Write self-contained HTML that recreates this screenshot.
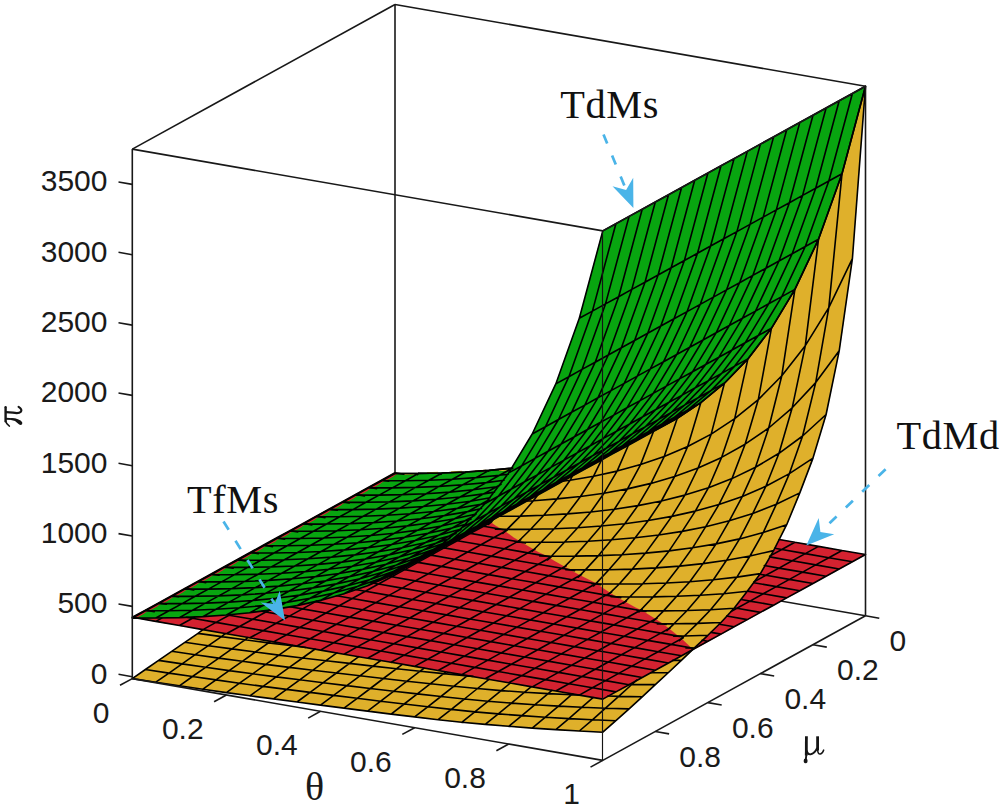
<!DOCTYPE html>
<html><head><meta charset="utf-8"><title>chart</title>
<style>
html,body{margin:0;padding:0;background:#fff}
body{width:1003px;height:806px;overflow:hidden}
svg{display:block}
.bx{stroke:#181818;stroke-width:1.6;fill:none}
.bxf{stroke:#141414;stroke-width:1.15;fill:none}
.ms{stroke:#000;stroke-width:1.6;fill:none;stroke-linecap:round;stroke-linejoin:round}
.tk{font-family:"Liberation Sans",sans-serif;font-size:30px;fill:#1a1a1a}
.ax{font-family:"Liberation Serif",serif;font-size:40px;fill:#1a1a1a}
.an{font-family:"Liberation Serif",serif;font-size:40.3px;letter-spacing:0.6px;fill:#111}
.ar{stroke:#4ab4e8;stroke-width:2.7;stroke-dasharray:9.8 12.9;fill:none}
</style></head><body>
<svg width="1003" height="806" viewBox="0 0 1003 806">
<rect width="1003" height="806" fill="#fff"/>
<g><line class="bx" x1="395.0" y1="534.0" x2="132.3" y2="678.6"/><line class="bx" x1="395.0" y1="534.0" x2="865.5" y2="615.8"/><line class="bx" x1="395.0" y1="534.0" x2="395.0" y2="4.5"/><line class="bx" x1="395.0" y1="4.5" x2="132.3" y2="149.1"/><line class="bx" x1="395.0" y1="4.5" x2="865.5" y2="86.3"/></g>
<path d="M865.5,87.5 864.8,87.5 842.2,172.5 818.2,239.5 794.8,289.2 771.2,328.2 748.2,358.2 722.8,384.2 700.2,402.8 676.5,418.5 489.5,521.2 489.8,522.5 500.8,529.2 513.2,537.8 526.8,546.2 538.2,552.5 545.2,555.8 553.5,561.2 577.5,574.5 596.2,583.8 601.8,588.2 614.8,596.5 634.5,607.5 641.5,610.8 648.8,615.8 654.2,618.8 668.2,628.5 677.2,635.8 692.2,649.5 604.8,697.8 602.8,698.8 601.5,698.8 559.2,691.2 553.5,690.5 551.5,689.8 545.8,689.2 543.8,688.5 538.2,687.8 536.2,687.2 530.5,686.5 528.5,685.8 522.8,685.2 520.8,684.5 513.2,683.5 511.2,682.8 428.8,668.8 426.8,668.2 421.2,667.5 419.2,666.8 413.5,666.2 411.5,665.5 405.8,664.8 403.8,664.2 398.2,663.5 396.2,662.8 390.5,662.2 388.5,661.5 382.8,660.8 380.8,660.2 375.2,659.5 373.2,658.8 367.5,658.2 365.5,657.5 359.8,656.8 357.8,656.2 352.2,655.5 350.2,654.8 344.5,654.2 342.5,653.5 336.8,652.8 334.8,652.2 329.2,651.5 327.2,650.8 321.5,650.2 319.5,649.5 313.8,648.8 311.8,648.2 306.2,647.5 304.2,646.8 298.5,646.2 296.5,645.5 290.8,644.8 288.8,644.2 283.2,643.5 281.2,642.8 275.5,642.2 273.5,641.5 267.8,640.8 265.8,640.2 260.2,639.5 258.2,638.8 202.5,629.5 193.5,636.2 132.2,678.2 132.2,678.8 172.8,685.2 179.5,685.8 181.8,686.5 247.5,695.8 308.2,703.5 320.8,705.5 328.5,706.2 331.2,706.8 336.2,707.2 338.8,707.8 346.5,708.5 349.2,709.2 433.2,719.5 463.8,722.8 501.8,725.8 502.2,726.2 514.8,726.8 515.2,727.2 553.2,729.5 553.5,729.8 558.5,729.8 558.8,730.2 603.2,732.5 630.2,708.5 679.2,663.2 714.8,629.2 734.8,608.2 760.5,574.2 773.2,552.2 787.5,523.8 799.5,494.8 812.5,460.5 826.2,415.5 839.8,349.2 852.8,257.2 853.2,248.5 853.5,248.2 853.5,244.2 853.8,243.8 853.8,239.8 854.2,239.5 854.2,235.5 854.5,235.2 854.5,231.2 855.8,217.8 855.8,213.5 856.2,213.2 856.2,209.2 856.5,208.8 856.5,204.8 856.8,204.5 856.8,200.5 857.2,200.2 857.2,196.2 858.5,182.8 858.5,178.5 858.8,178.2Z" fill="#dfb02b" fill-rule="evenodd"/>
<path d="M132.5,617.5 165.5,623.5 171.2,624.2 173.2,624.8 178.8,625.5 180.8,626.2 186.5,626.8 188.5,627.5 194.2,628.2 196.2,628.8 201.8,629.5 203.8,630.2 209.5,630.8 211.5,631.5 217.2,632.2 219.2,632.8 224.8,633.5 226.8,634.2 232.5,634.8 234.5,635.5 240.2,636.2 242.2,636.8 247.8,637.5 249.8,638.2 280.5,643.2 282.5,643.8 288.2,644.5 290.2,645.2 295.8,645.8 297.8,646.5 303.5,647.2 305.5,647.8 311.2,648.5 313.2,649.2 318.8,649.8 320.8,650.5 326.5,651.2 328.5,651.8 334.2,652.5 336.2,653.2 341.8,653.8 343.8,654.5 349.5,655.2 351.5,655.8 357.2,656.5 359.2,657.2 364.8,657.8 366.8,658.5 372.5,659.2 374.5,659.8 380.2,660.5 382.2,661.2 387.8,661.8 389.8,662.5 395.5,663.2 397.5,663.8 403.2,664.5 405.2,665.2 410.8,665.8 412.8,666.5 418.5,667.2 420.5,667.8 426.2,668.5 428.2,669.2 433.8,669.8 435.8,670.5 441.5,671.2 443.5,671.8 449.2,672.5 451.2,673.2 456.8,673.8 458.8,674.5 464.5,675.2 466.5,675.8 472.2,676.5 474.2,677.2 479.8,677.8 481.8,678.5 487.5,679.2 489.5,679.8 495.2,680.5 497.2,681.2 502.8,681.8 504.8,682.5 510.5,683.2 512.5,683.8 589.2,696.8 591.2,697.5 596.8,698.2 598.8,698.8 603.5,699.2 691.5,650.8 693.2,649.5 694.5,649.2 865.2,555.2 865.5,554.2 829.2,548.2 827.2,547.5 821.5,546.8 781.2,539.5 778.8,539.5 772.8,551.5 760.8,572.5 734.5,607.5 723.2,619.8 692.8,649.2 681.8,638.8 668.8,628.2 661.5,622.8 642.2,610.5 635.2,607.2 617.2,597.2 602.5,587.8 596.8,583.5 578.2,574.2 554.2,560.8 545.8,555.5 538.8,552.2 527.5,545.8 513.8,537.5 504.5,530.8 495.5,525.5 489.8,521.5 485.8,523.2 416.2,561.8 389.2,576.2 362.8,587.2 343.5,593.8 330.5,597.2 324.5,599.2 296.8,605.5 273.5,609.5 248.2,612.8 244.8,612.8 223.2,615.2 203.8,616.2 203.5,616.5 180.5,617.2 180.2,617.5 165.5,617.5 165.2,617.8 138.5,617.8 138.2,617.5 143.2,614.5 399.2,473.8 399.2,473.2 394.5,472.5 132.5,616.8Z" fill="#d42230" fill-rule="evenodd"/>
<path d="M132.5,617.5 132.5,618.2 135.2,618.2 135.2,617.5ZM865.5,86.2 864.8,86.2 602.5,230.8 579.5,317.2 555.8,383.2 531.5,434.8 511.2,468.2 486.8,470.5 477.2,470.8 467.2,471.8 460.8,471.8 460.5,472.2 431.5,472.8 431.2,473.2 398.8,473.2 136.5,617.5 136.5,618.2 165.8,618.2 166.2,617.8 180.8,617.8 181.2,617.5 204.2,616.8 204.5,616.5 223.8,615.5 245.5,613.2 248.8,613.2 264.5,610.8 269.5,610.5 297.5,605.8 308.2,603.2 320.2,600.8 344.2,594.2 368.2,585.8 389.8,576.5 416.8,562.2 674.8,420.2 700.8,403.2 723.5,384.5 748.5,358.8 771.5,328.8 795.2,289.8 818.5,240.2 838.8,182.8 840.8,178.2 843.2,170.8 859.2,110.2 865.5,87.8Z" fill="#08a510" fill-rule="evenodd"/>
<line x1="395.0" y1="474.5" x2="507.9" y2="469.7" stroke="#e8c030" stroke-width="1.6" stroke-dasharray="11 13" stroke-dashoffset="-8"/>
<line x1="134.0" y1="618.2" x2="396.7" y2="473.6" stroke="#d42230" stroke-width="1.9" stroke-dasharray="7.5 7.5" stroke-dashoffset="-4"/>
<path class="ms" d="M395.0,473.5 L418.5,473.4M202.9,629.7 L198.0,633.4M198.0,633.4 L221.5,636.6M198.0,633.4 L184.8,642.3M184.8,642.3 L208.4,645.7M184.8,642.3 L171.7,651.3M171.7,651.3 L195.2,654.7M171.7,651.3 L158.6,660.4M158.6,660.4 L182.1,663.9M158.6,660.4 L145.4,669.5M145.4,669.5 L169.0,673.1M145.4,669.5 L132.3,678.6M132.3,678.6 L155.8,682.2M418.5,473.4 L442.1,473.0M418.5,473.4 L417.4,474.7M225.3,633.7 L221.5,636.6M221.5,636.6 L245.0,639.8M221.5,636.6 L208.4,645.7M208.4,645.7 L231.9,648.9M208.4,645.7 L195.2,654.7M195.2,654.7 L218.8,658.1M195.2,654.7 L182.1,663.9M182.1,663.9 L205.6,667.3M182.1,663.9 L169.0,673.1M169.0,673.1 L192.5,676.5M169.0,673.1 L155.8,682.2M155.8,682.2 L179.4,685.8M442.1,473.0 L465.6,472.0M442.1,473.0 L441.0,474.3M247.8,637.7 L245.0,639.8M245.0,639.8 L268.6,642.9M245.0,639.8 L231.9,648.9M231.9,648.9 L255.4,652.0M231.9,648.9 L218.8,658.1M218.8,658.1 L242.3,661.3M218.8,658.1 L205.6,667.3M205.6,667.3 L229.1,670.6M205.6,667.3 L192.5,676.5M192.5,676.5 L216.0,679.9M192.5,676.5 L179.4,685.8M179.4,685.8 L202.9,689.2M465.6,472.0 L489.1,470.4M465.6,472.0 L465.0,472.7M270.2,641.6 L268.6,642.9M268.6,642.9 L292.1,645.8M268.6,642.9 L255.4,652.0M255.4,652.0 L278.9,655.1M255.4,652.0 L242.3,661.3M242.3,661.3 L265.8,664.4M242.3,661.3 L229.1,670.6M229.1,670.6 L252.7,673.8M229.1,670.6 L216.0,679.9M216.0,679.9 L239.5,683.2M216.0,679.9 L202.9,689.2M202.9,689.2 L226.4,692.6M489.1,470.4 L512.6,468.1M489.1,470.4 L488.6,471.1M292.6,645.4 L292.1,645.8M292.1,645.8 L305.8,647.5M292.1,645.8 L278.9,655.1M278.9,655.1 L302.5,658.0M278.9,655.1 L265.8,664.4M265.8,664.4 L289.3,667.4M265.8,664.4 L252.7,673.8M252.7,673.8 L276.2,676.9M252.7,673.8 L239.5,683.2M239.5,683.2 L263.1,686.4M239.5,683.2 L226.4,692.6M226.4,692.6 L249.9,695.8M512.6,468.1 L512.1,468.9M315.1,649.0 L302.5,658.0M302.5,658.0 L326.0,660.7M302.5,658.0 L289.3,667.4M289.3,667.4 L312.9,670.2M289.3,667.4 L276.2,676.9M276.2,676.9 L299.7,679.8M276.2,676.9 L263.1,686.4M263.1,686.4 L286.6,689.4M263.1,686.4 L249.9,695.8M249.9,695.8 L273.5,698.9M526.5,501.0 L533.4,500.7M498.7,516.3 L520.3,516.1M494.0,519.0 L488.5,524.3M495.4,529.2 L507.1,529.4M336.9,652.8 L326.0,660.7M326.0,660.7 L349.5,663.4M326.0,660.7 L312.9,670.2M312.9,670.2 L336.4,673.0M312.9,670.2 L299.7,679.8M299.7,679.8 L323.2,682.7M299.7,679.8 L286.6,689.4M286.6,689.4 L310.1,692.4M286.6,689.4 L273.5,698.9M273.5,698.9 L297.0,702.0M562.2,481.3 L570.1,480.3M537.8,494.9 L533.4,500.7M533.4,500.7 L556.9,498.9M533.4,500.7 L520.3,516.1M520.3,516.1 L543.8,515.3M520.3,516.1 L507.1,529.4M507.1,529.4 L530.7,529.3M507.1,529.4 L502.8,533.5M515.6,542.2 L517.5,542.2M358.8,656.7 L349.5,663.4M349.5,663.4 L373.0,666.1M349.5,663.4 L336.4,673.0M336.4,673.0 L359.9,675.8M336.4,673.0 L323.2,682.7M323.2,682.7 L346.8,685.6M323.2,682.7 L310.1,692.4M310.1,692.4 L333.6,695.4M310.1,692.4 L297.0,702.0M297.0,702.0 L320.5,705.1M572.3,476.2 L570.1,480.3M570.1,480.3 L593.6,476.2M570.1,480.3 L556.9,498.9M556.9,498.9 L580.5,496.5M556.9,498.9 L543.8,515.3M543.8,515.3 L567.3,513.9M543.8,515.3 L530.7,529.3M530.7,529.3 L554.2,528.7M530.7,529.3 L517.5,542.2M517.5,542.2 L541.1,542.3M380.7,660.5 L373.0,666.1M373.0,666.1 L396.6,668.7M373.0,666.1 L359.9,675.8M359.9,675.8 L383.4,678.5M359.9,675.8 L346.8,685.6M346.8,685.6 L370.3,688.5M346.8,685.6 L333.6,695.4M333.6,695.4 L357.2,698.3M333.6,695.4 L320.5,705.1M320.5,705.1 L344.0,708.1M601.8,459.4 L593.6,476.2M593.6,476.2 L617.1,471.1M593.6,476.2 L580.5,496.5M580.5,496.5 L604.0,493.2M580.5,496.5 L567.3,513.9M567.3,513.9 L590.8,512.0M567.3,513.9 L554.2,528.7M554.2,528.7 L577.7,527.7M554.2,528.7 L541.1,542.3M541.1,542.3 L564.6,542.0M541.1,542.3 L532.3,551.3M539.7,556.0 L551.4,556.2M402.0,664.6 L396.6,668.7M396.6,668.7 L420.1,671.2M396.6,668.7 L383.4,678.5M383.4,678.5 L407.0,681.2M383.4,678.5 L370.3,688.5M370.3,688.5 L393.8,691.2M370.3,688.5 L357.2,698.3M357.2,698.3 L380.7,701.2M357.2,698.3 L344.0,708.1M344.0,708.1 L367.6,711.1M628.6,444.8 L617.1,471.1M617.1,471.1 L640.6,464.6M617.1,471.1 L604.0,493.2M604.0,493.2 L627.5,488.9M604.0,493.2 L590.8,512.0M590.8,512.0 L614.4,509.2M590.8,512.0 L577.7,527.7M577.7,527.7 L601.2,526.0M577.7,527.7 L564.6,542.0M564.6,542.0 L588.1,541.2M564.6,542.0 L551.4,556.2M551.4,556.2 L575.0,556.1M551.4,556.2 L547.6,559.9M423.9,668.3 L420.1,671.2M420.1,671.2 L443.6,673.6M420.1,671.2 L407.0,681.2M407.0,681.2 L430.5,683.7M407.0,681.2 L393.8,691.2M393.8,691.2 L417.3,693.9M393.8,691.2 L380.7,701.2M380.7,701.2 L404.2,704.0M380.7,701.2 L367.6,711.1M367.6,711.1 L391.1,714.1M654.8,430.4 L677.3,418.3M653.2,432.3 L640.6,464.6M640.6,464.6 L664.2,456.6M640.6,464.6 L627.5,488.9M627.5,488.9 L651.0,483.4M627.5,488.9 L614.4,509.2M614.4,509.2 L637.9,505.6M614.4,509.2 L601.2,526.0M601.2,526.0 L624.8,523.7M601.2,526.0 L588.1,541.2M588.1,541.2 L611.6,539.8M588.1,541.2 L575.0,556.1M575.0,556.1 L598.5,555.6M575.0,556.1 L562.9,568.5M565.8,569.7 L585.4,569.9M445.8,671.9 L443.6,673.6M443.6,673.6 L467.1,675.9M443.6,673.6 L430.5,683.7M430.5,683.7 L454.0,686.2M430.5,683.7 L417.3,693.9M417.3,693.9 L440.9,696.5M417.3,693.9 L404.2,704.0M404.2,704.0 L427.7,706.8M404.2,704.0 L391.1,714.1M391.1,714.1 L414.6,716.9M677.3,418.3 L700.8,402.7M677.3,418.3 L664.2,456.6M664.2,456.6 L687.7,446.5M664.2,456.6 L651.0,483.4M651.0,483.4 L674.6,476.5M651.0,483.4 L637.9,505.6M637.9,505.6 L661.4,501.0M637.9,505.6 L624.8,523.7M624.8,523.7 L648.3,520.5M624.8,523.7 L611.6,539.8M611.6,539.8 L635.2,537.8M611.6,539.8 L598.5,555.6M598.5,555.6 L622.0,554.7M598.5,555.6 L585.4,569.9M585.4,569.9 L608.9,569.7M585.4,569.9 L578.2,577.2M591.8,583.8 L595.7,583.9M467.1,675.9 L473.0,676.4M467.1,675.9 L454.0,686.2M454.0,686.2 L477.5,688.5M454.0,686.2 L440.9,696.5M440.9,696.5 L464.4,699.0M440.9,696.5 L427.7,706.8M427.7,706.8 L451.3,709.4M427.7,706.8 L414.6,716.9M414.6,716.9 L438.1,719.7M700.8,402.7 L724.4,383.2M700.8,402.7 L687.7,446.5M687.7,446.5 L711.2,434.1M687.7,446.5 L674.6,476.5M674.6,476.5 L698.1,468.0M674.6,476.5 L661.4,501.0M661.4,501.0 L684.9,495.1M661.4,501.0 L648.3,520.5M648.3,520.5 L671.8,516.4M648.3,520.5 L635.2,537.8M635.2,537.8 L658.7,535.0M635.2,537.8 L622.0,554.7M622.0,554.7 L645.5,553.1M622.0,554.7 L608.9,569.7M608.9,569.7 L632.4,569.1M608.9,569.7 L595.7,583.9M595.7,583.9 L619.3,584.0M595.7,583.9 L593.6,585.9M489.0,679.3 L477.5,688.5M477.5,688.5 L501.1,690.6M477.5,688.5 L464.4,699.0M464.4,699.0 L487.9,701.3M464.4,699.0 L451.3,709.4M451.3,709.4 L474.8,711.9M451.3,709.4 L438.1,719.7M438.1,719.7 L461.7,722.3M724.4,383.2 L747.9,358.9M724.4,383.2 L711.2,434.1M711.2,434.1 L734.7,418.7M711.2,434.1 L698.1,468.0M698.1,468.0 L721.6,457.4M698.1,468.0 L684.9,495.1M684.9,495.1 L708.5,487.7M684.9,495.1 L671.8,516.4M671.8,516.4 L695.3,511.1M671.8,516.4 L658.7,535.0M658.7,535.0 L682.2,531.4M658.7,535.0 L645.5,553.1M645.5,553.1 L669.1,550.9M645.5,553.1 L632.4,569.1M632.4,569.1 L655.9,567.9M632.4,569.1 L619.3,584.0M619.3,584.0 L642.8,583.7M619.3,584.0 L608.3,594.6M611.0,596.8 L629.7,597.0M510.4,683.0 L501.1,690.6M501.1,690.6 L524.6,692.2M501.1,690.6 L487.9,701.3M487.9,701.3 L511.4,703.1M487.9,701.3 L474.8,711.9M474.8,711.9 L498.3,713.9M474.8,711.9 L461.7,722.3M461.7,722.3 L485.2,724.4M747.9,358.9 L771.4,328.3M747.9,358.9 L734.7,418.7M734.7,418.7 L758.3,399.6M734.7,418.7 L721.6,457.4M721.6,457.4 L745.1,444.2M721.6,457.4 L708.5,487.7M708.5,487.7 L732.0,478.6M708.5,487.7 L695.3,511.1M695.3,511.1 L718.9,504.6M695.3,511.1 L682.2,531.4M682.2,531.4 L705.7,526.7M682.2,531.4 L669.1,550.9M669.1,550.9 L692.6,547.8M669.1,550.9 L655.9,567.9M655.9,567.9 L679.5,566.1M655.9,567.9 L642.8,583.7M642.8,583.7 L666.3,583.0M642.8,583.7 L629.7,597.0M629.7,597.0 L653.2,596.9M629.7,597.0 L623.6,603.1M637.1,610.7 L640.1,610.8M531.1,686.8 L524.6,692.2M524.6,692.2 L548.1,693.6M524.6,692.2 L511.4,703.1M511.4,703.1 L535.0,704.7M511.4,703.1 L498.3,713.9M498.3,713.9 L521.8,715.6M498.3,713.9 L485.2,724.4M485.2,724.4 L508.7,726.3M771.4,328.3 L794.9,289.4M771.4,328.3 L758.3,399.6M758.3,399.6 L781.8,375.7M758.3,399.6 L745.1,444.2M745.1,444.2 L768.7,428.0M745.1,444.2 L732.0,478.6M732.0,478.6 L755.5,467.3M732.0,478.6 L718.9,504.6M718.9,504.6 L742.4,496.4M718.9,504.6 L705.7,526.7M705.7,526.7 L729.3,520.8M705.7,526.7 L692.6,547.8M692.6,547.8 L716.1,543.9M692.6,547.8 L679.5,566.1M679.5,566.1 L703.0,563.6M679.5,566.1 L666.3,583.0M666.3,583.0 L689.8,581.7M666.3,583.0 L653.2,596.9M653.2,596.9 L676.7,596.3M653.2,596.9 L640.1,610.8M640.1,610.8 L663.6,610.9M640.1,610.8 L639.0,611.9M551.9,690.4 L548.1,693.6M548.1,693.6 L571.6,694.7M548.1,693.6 L535.0,704.7M535.0,704.7 L558.5,706.1M535.0,704.7 L521.8,715.6M521.8,715.6 L545.4,717.2M521.8,715.6 L508.7,726.3M508.7,726.3 L532.2,728.1M794.9,289.4 L818.5,239.3M794.9,289.4 L781.8,375.7M781.8,375.7 L805.3,345.7M781.8,375.7 L768.7,428.0M768.7,428.0 L792.2,407.8M768.7,428.0 L755.5,467.3M755.5,467.3 L779.0,453.3M755.5,467.3 L742.4,496.4M742.4,496.4 L765.9,486.2M742.4,496.4 L729.3,520.8M729.3,520.8 L752.8,513.4M729.3,520.8 L716.1,543.9M716.1,543.9 L739.6,538.9M716.1,543.9 L703.0,563.6M703.0,563.6 L726.5,560.3M703.0,563.6 L689.8,581.7M689.8,581.7 L713.4,579.7M689.8,581.7 L676.7,596.3M676.7,596.3 L700.2,595.3M676.7,596.3 L663.6,610.9M663.6,610.9 L687.1,610.5M663.6,610.9 L653.2,621.2M657.3,623.9 L674.0,623.8M572.7,693.8 L571.6,694.7M571.6,694.7 L580.5,695.1M571.6,694.7 L558.5,706.1M558.5,706.1 L582.0,707.2M558.5,706.1 L545.4,717.2M545.4,717.2 L568.9,718.6M545.4,717.2 L532.2,728.1M532.2,728.1 L555.8,729.6M818.5,239.3 L842.0,173.7M818.5,239.3 L805.3,345.7M805.3,345.7 L828.8,307.6M805.3,345.7 L792.2,407.8M792.2,407.8 L815.7,382.6M792.2,407.8 L779.0,453.3M779.0,453.3 L802.6,436.0M779.0,453.3 L765.9,486.2M765.9,486.2 L789.4,473.6M765.9,486.2 L752.8,513.4M752.8,513.4 L776.3,504.3M752.8,513.4 L739.6,538.9M739.6,538.9 L763.2,532.6M739.6,538.9 L726.5,560.3M726.5,560.3 L750.0,556.0M726.5,560.3 L713.4,579.7M713.4,579.7 L736.9,577.1M713.4,579.7 L700.2,595.3M700.2,595.3 L723.8,593.7M700.2,595.3 L687.1,610.5M687.1,610.5 L710.6,609.7M687.1,610.5 L674.0,623.8M674.0,623.8 L697.5,623.4M674.0,623.8 L666.9,630.6M673.6,636.1 L684.4,636.0M628.9,684.5 L631.8,684.5M607.9,696.0 L618.7,696.4M593.0,697.6 L582.0,707.2M582.0,707.2 L605.5,708.2M582.0,707.2 L568.9,718.6M568.9,718.6 L592.4,719.8M568.9,718.6 L555.8,729.6M555.8,729.6 L579.3,731.0M842.0,173.7 L865.5,86.3M842.0,173.7 L828.8,307.6M828.8,307.6 L852.4,258.6M828.8,307.6 L815.7,382.6M815.7,382.6 L839.2,350.8M815.7,382.6 L802.6,436.0M802.6,436.0 L826.1,414.5M802.6,436.0 L789.4,473.6M789.4,473.6 L813.0,458.1M789.4,473.6 L776.3,504.3M776.3,504.3 L799.8,492.9M776.3,504.3 L763.2,532.6M763.2,532.6 L786.7,524.7M763.2,532.6 L750.0,556.0M750.0,556.0 L773.6,550.6M750.0,556.0 L736.9,577.1M736.9,577.1 L760.4,573.6M736.9,577.1 L723.8,593.7M723.8,593.7 L747.3,591.3M723.8,593.7 L710.6,609.7M710.6,609.7 L734.1,608.3M710.6,609.7 L697.5,623.4M697.5,623.4 L721.0,622.5M697.5,623.4 L684.4,636.0M684.4,636.0 L707.9,635.3M684.4,636.0 L679.4,640.6M685.9,648.0 L694.7,647.7M672.8,660.4 L681.6,660.2M650.8,672.7 L668.5,672.5M636.7,680.1 L631.8,684.5M631.8,684.5 L655.3,684.6M631.8,684.5 L618.7,696.4M618.7,696.4 L642.2,696.8M618.7,696.4 L605.5,708.2M605.5,708.2 L629.1,708.9M605.5,708.2 L592.4,719.8M592.4,719.8 L615.9,720.7M592.4,719.8 L579.3,731.0M579.3,731.0 L602.8,732.2M865.5,86.3 L852.4,258.6M852.4,258.6 L839.2,350.8M839.2,350.8 L826.1,414.5M826.1,414.5 L813.0,458.1M813.0,458.1 L799.8,492.9M799.8,492.9 L786.7,524.7M786.7,524.7 L773.6,550.6M773.6,550.6 L760.4,573.6M760.4,573.6 L747.3,591.3M747.3,591.3 L734.1,608.3M734.1,608.3 L721.0,622.5M721.0,622.5 L707.9,635.3M707.9,635.3 L694.7,647.7M694.7,647.7 L681.6,660.2M681.6,660.2 L668.5,672.5M668.5,672.5 L655.3,684.6M655.3,684.6 L642.2,696.8M642.2,696.8 L629.1,708.9M629.1,708.9 L615.9,720.7M615.9,720.7 L602.8,732.2"/>
<path class="ms" d="M395.0,472.7 L403.8,474.3M395.0,472.7 L381.9,480.0M381.9,480.0 L388.7,481.2M381.9,480.0 L368.7,487.2M368.7,487.2 L376.6,488.6M368.7,487.2 L355.6,494.4M355.6,494.4 L364.4,496.0M355.6,494.4 L342.5,501.7M342.5,501.7 L349.3,502.9M342.5,501.7 L329.3,508.9M329.3,508.9 L337.2,510.3M329.3,508.9 L316.2,516.1M316.2,516.1 L325.0,517.7M316.2,516.1 L303.1,523.4M303.1,523.4 L311.9,524.9M303.1,523.4 L289.9,530.6M289.9,530.6 L297.8,531.9M289.9,530.6 L276.8,537.8M276.8,537.8 L284.6,539.2M276.8,537.8 L263.6,545.0M263.6,545.0 L272.5,546.6M263.6,545.0 L250.5,552.3M250.5,552.3 L258.4,553.6M250.5,552.3 L237.4,559.5M237.4,559.5 L245.2,560.9M237.4,559.5 L224.2,566.7M224.2,566.7 L233.1,568.3M224.2,566.7 L211.1,574.0M211.1,574.0 L219.0,575.3M211.1,574.0 L198.0,581.2M198.0,581.2 L205.8,582.6M198.0,581.2 L184.8,588.4M184.8,588.4 L193.7,590.0M184.8,588.4 L171.7,595.7M171.7,595.7 L178.6,596.8M171.7,595.7 L158.6,602.9M158.6,602.9 L166.4,604.2M158.6,602.9 L145.4,610.1M145.4,610.1 L154.3,611.6M145.4,610.1 L132.3,617.3M132.3,617.3 L155.8,621.4M186.6,617.3 L192.5,618.3M161.8,618.1 L155.8,621.4M155.8,621.4 L179.4,625.5M228.2,615.0 L229.1,615.2M194.7,617.1 L192.5,618.3M192.5,618.3 L216.0,622.4M192.5,618.3 L179.4,625.5M179.4,625.5 L202.9,629.6M261.9,611.3 L265.8,612.0M229.7,614.9 L229.1,615.2M229.1,615.2 L252.7,619.2M229.1,615.2 L216.0,622.4M216.0,622.4 L239.5,626.5M216.0,622.4 L202.9,629.6M202.9,629.6 L226.4,633.7M289.7,606.7 L302.5,608.9M269.1,610.2 L265.8,612.0M265.8,612.0 L289.3,616.1M265.8,612.0 L252.7,619.2M252.7,619.2 L276.2,623.3M252.7,619.2 L239.5,626.5M239.5,626.5 L263.1,630.6M239.5,626.5 L226.4,633.7M226.4,633.7 L249.9,637.8M481.6,525.9 L483.6,526.2M468.5,533.1 L470.5,533.4M455.4,540.3 L457.3,540.7M442.2,547.6 L444.2,547.9M429.1,554.8 L431.1,555.1M416.0,562.0 L417.9,562.4M402.8,569.2 L404.8,569.6M388.7,576.3 L391.7,576.8M373.6,583.2 L378.5,584.0M356.6,589.7 L365.4,591.3M336.6,595.8 L352.3,598.5M316.7,601.0 L315.6,601.6M315.6,601.6 L339.1,605.7M315.6,601.6 L302.5,608.9M302.5,608.9 L326.0,613.0M302.5,608.9 L289.3,616.1M289.3,616.1 L312.9,620.2M289.3,616.1 L276.2,623.3M276.2,623.3 L299.7,627.4M276.2,623.3 L263.1,630.6M263.1,630.6 L286.6,634.7M263.1,630.6 L249.9,637.8M249.9,637.8 L273.5,641.9M491.8,521.7 L483.6,526.2M483.6,526.2 L507.1,530.3M483.6,526.2 L470.5,533.4M470.5,533.4 L494.0,537.5M470.5,533.4 L457.3,540.7M457.3,540.7 L480.9,544.8M457.3,540.7 L444.2,547.9M444.2,547.9 L467.7,552.0M444.2,547.9 L431.1,555.1M431.1,555.1 L454.6,559.2M431.1,555.1 L417.9,562.4M417.9,562.4 L441.5,566.4M417.9,562.4 L404.8,569.6M404.8,569.6 L428.3,573.7M404.8,569.6 L391.7,576.8M391.7,576.8 L415.2,580.9M391.7,576.8 L378.5,584.0M378.5,584.0 L402.1,588.1M378.5,584.0 L365.4,591.3M365.4,591.3 L388.9,595.4M365.4,591.3 L352.3,598.5M352.3,598.5 L375.8,602.6M352.3,598.5 L339.1,605.7M339.1,605.7 L362.6,609.8M339.1,605.7 L326.0,613.0M326.0,613.0 L349.5,617.1M326.0,613.0 L312.9,620.2M312.9,620.2 L336.4,624.3M312.9,620.2 L299.7,627.4M299.7,627.4 L323.2,631.5M299.7,627.4 L286.6,634.7M286.6,634.7 L310.1,638.7M286.6,634.7 L273.5,641.9M273.5,641.9 L297.0,646.0M507.1,530.3 L494.0,537.5M494.0,537.5 L517.5,541.6M494.0,537.5 L480.9,544.8M480.9,544.8 L504.4,548.8M480.9,544.8 L467.7,552.0M467.7,552.0 L491.3,556.1M467.7,552.0 L454.6,559.2M454.6,559.2 L478.1,563.3M454.6,559.2 L441.5,566.4M441.5,566.4 L465.0,570.5M441.5,566.4 L428.3,573.7M428.3,573.7 L451.9,577.8M428.3,573.7 L415.2,580.9M415.2,580.9 L438.7,585.0M415.2,580.9 L402.1,588.1M402.1,588.1 L425.6,592.2M402.1,588.1 L388.9,595.4M388.9,595.4 L412.4,599.5M388.9,595.4 L375.8,602.6M375.8,602.6 L399.3,606.7M375.8,602.6 L362.6,609.8M362.6,609.8 L386.2,613.9M362.6,609.8 L349.5,617.1M349.5,617.1 L373.0,621.1M349.5,617.1 L336.4,624.3M336.4,624.3 L359.9,628.4M336.4,624.3 L323.2,631.5M323.2,631.5 L346.8,635.6M323.2,631.5 L310.1,638.7M310.1,638.7 L333.6,642.8M310.1,638.7 L297.0,646.0M297.0,646.0 L320.5,650.1M520.8,539.8 L517.5,541.6M517.5,541.6 L525.4,543.0M517.5,541.6 L504.4,548.8M504.4,548.8 L527.9,552.9M504.4,548.8 L491.3,556.1M491.3,556.1 L514.8,560.2M491.3,556.1 L478.1,563.3M478.1,563.3 L501.6,567.4M478.1,563.3 L465.0,570.5M465.0,570.5 L488.5,574.6M465.0,570.5 L451.9,577.8M451.9,577.8 L475.4,581.9M451.9,577.8 L438.7,585.0M438.7,585.0 L462.2,589.1M438.7,585.0 L425.6,592.2M425.6,592.2 L449.1,596.3M425.6,592.2 L412.4,599.5M412.4,599.5 L436.0,603.5M412.4,599.5 L399.3,606.7M399.3,606.7 L422.8,610.8M399.3,606.7 L386.2,613.9M386.2,613.9 L409.7,618.0M386.2,613.9 L373.0,621.1M373.0,621.1 L396.6,625.2M373.0,621.1 L359.9,628.4M359.9,628.4 L383.4,632.5M359.9,628.4 L346.8,635.6M346.8,635.6 L370.3,639.7M346.8,635.6 L333.6,642.8M333.6,642.8 L357.2,646.9M333.6,642.8 L320.5,650.1M320.5,650.1 L344.0,654.2M535.0,549.0 L527.9,552.9M527.9,552.9 L550.5,556.9M527.9,552.9 L514.8,560.2M514.8,560.2 L538.3,564.3M514.8,560.2 L501.6,567.4M501.6,567.4 L525.2,571.5M501.6,567.4 L488.5,574.6M488.5,574.6 L512.0,578.7M488.5,574.6 L475.4,581.9M475.4,581.9 L498.9,585.9M475.4,581.9 L462.2,589.1M462.2,589.1 L485.8,593.2M462.2,589.1 L449.1,596.3M449.1,596.3 L472.6,600.4M449.1,596.3 L436.0,603.5M436.0,603.5 L459.5,607.6M436.0,603.5 L422.8,610.8M422.8,610.8 L446.4,614.9M422.8,610.8 L409.7,618.0M409.7,618.0 L433.2,622.1M409.7,618.0 L396.6,625.2M396.6,625.2 L420.1,629.3M396.6,625.2 L383.4,632.5M383.4,632.5 L407.0,636.6M383.4,632.5 L370.3,639.7M370.3,639.7 L393.8,643.8M370.3,639.7 L357.2,646.9M357.2,646.9 L380.7,651.0M357.2,646.9 L344.0,654.2M344.0,654.2 L367.6,658.2M550.9,557.3 L538.3,564.3M538.3,564.3 L561.8,568.3M538.3,564.3 L525.2,571.5M525.2,571.5 L548.7,575.6M525.2,571.5 L512.0,578.7M512.0,578.7 L535.6,582.8M512.0,578.7 L498.9,585.9M498.9,585.9 L522.4,590.0M498.9,585.9 L485.8,593.2M485.8,593.2 L509.3,597.3M485.8,593.2 L472.6,600.4M472.6,600.4 L496.2,604.5M472.6,600.4 L459.5,607.6M459.5,607.6 L483.0,611.7M459.5,607.6 L446.4,614.9M446.4,614.9 L469.9,619.0M446.4,614.9 L433.2,622.1M433.2,622.1 L456.8,626.2M433.2,622.1 L420.1,629.3M420.1,629.3 L443.6,633.4M420.1,629.3 L407.0,636.6M407.0,636.6 L430.5,640.6M407.0,636.6 L393.8,643.8M393.8,643.8 L417.3,647.9M393.8,643.8 L380.7,651.0M380.7,651.0 L404.2,655.1M380.7,651.0 L367.6,658.2M367.6,658.2 L391.1,662.3M566.2,565.9 L561.8,568.3M561.8,568.3 L574.6,570.6M561.8,568.3 L548.7,575.6M548.7,575.6 L572.2,579.7M548.7,575.6 L535.6,582.8M535.6,582.8 L559.1,586.9M535.6,582.8 L522.4,590.0M522.4,590.0 L546.0,594.1M522.4,590.0 L509.3,597.3M509.3,597.3 L532.8,601.4M509.3,597.3 L496.2,604.5M496.2,604.5 L519.7,608.6M496.2,604.5 L483.0,611.7M483.0,611.7 L506.5,615.8M483.0,611.7 L469.9,619.0M469.9,619.0 L493.4,623.0M469.9,619.0 L456.8,626.2M456.8,626.2 L480.3,630.3M456.8,626.2 L443.6,633.4M443.6,633.4 L467.1,637.5M443.6,633.4 L430.5,640.6M430.5,640.6 L454.0,644.7M430.5,640.6 L417.3,647.9M417.3,647.9 L440.9,652.0M417.3,647.9 L404.2,655.1M404.2,655.1 L427.7,659.2M404.2,655.1 L391.1,662.3M391.1,662.3 L414.6,666.4M581.5,574.5 L572.2,579.7M572.2,579.7 L595.7,583.8M572.2,579.7 L559.1,586.9M559.1,586.9 L582.6,591.0M559.1,586.9 L546.0,594.1M546.0,594.1 L569.5,598.2M546.0,594.1 L532.8,601.4M532.8,601.4 L556.3,605.4M532.8,601.4 L519.7,608.6M519.7,608.6 L543.2,612.7M519.7,608.6 L506.5,615.8M506.5,615.8 L530.1,619.9M506.5,615.8 L493.4,623.0M493.4,623.0 L516.9,627.1M493.4,623.0 L480.3,630.3M480.3,630.3 L503.8,634.4M480.3,630.3 L467.1,637.5M467.1,637.5 L490.7,641.6M467.1,637.5 L454.0,644.7M454.0,644.7 L477.5,648.8M454.0,644.7 L440.9,652.0M440.9,652.0 L464.4,656.1M440.9,652.0 L427.7,659.2M427.7,659.2 L451.3,663.3M427.7,659.2 L414.6,666.4M414.6,666.4 L438.1,670.5M597.4,582.8 L595.7,583.8M595.7,583.8 L600.6,584.6M595.7,583.8 L582.6,591.0M582.6,591.0 L606.1,595.1M582.6,591.0 L569.5,598.2M569.5,598.2 L593.0,602.3M569.5,598.2 L556.3,605.4M556.3,605.4 L579.9,609.5M556.3,605.4 L543.2,612.7M543.2,612.7 L566.7,616.8M543.2,612.7 L530.1,619.9M530.1,619.9 L553.6,624.0M530.1,619.9 L516.9,627.1M516.9,627.1 L540.5,631.2M516.9,627.1 L503.8,634.4M503.8,634.4 L527.3,638.5M503.8,634.4 L490.7,641.6M490.7,641.6 L514.2,645.7M490.7,641.6 L477.5,648.8M477.5,648.8 L501.1,652.9M477.5,648.8 L464.4,656.1M464.4,656.1 L487.9,660.1M464.4,656.1 L451.3,663.3M451.3,663.3 L474.8,667.4M451.3,663.3 L438.1,670.5M438.1,670.5 L461.7,674.6M611.6,592.1 L606.1,595.1M606.1,595.1 L620.8,597.6M606.1,595.1 L593.0,602.3M593.0,602.3 L616.5,606.4M593.0,602.3 L579.9,609.5M579.9,609.5 L603.4,613.6M579.9,609.5 L566.7,616.8M566.7,616.8 L590.3,620.9M566.7,616.8 L553.6,624.0M553.6,624.0 L577.1,628.1M553.6,624.0 L540.5,631.2M540.5,631.2 L564.0,635.3M540.5,631.2 L527.3,638.5M527.3,638.5 L550.9,642.5M527.3,638.5 L514.2,645.7M514.2,645.7 L537.7,649.8M514.2,645.7 L501.1,652.9M501.1,652.9 L524.6,657.0M501.1,652.9 L487.9,660.1M487.9,660.1 L511.4,664.2M487.9,660.1 L474.8,667.4M474.8,667.4 L498.3,671.5M474.8,667.4 L461.7,674.6M461.7,674.6 L485.2,678.7M626.4,601.0 L616.5,606.4M616.5,606.4 L640.1,610.5M616.5,606.4 L603.4,613.6M603.4,613.6 L626.9,617.7M603.4,613.6 L590.3,620.9M590.3,620.9 L613.8,624.9M590.3,620.9 L577.1,628.1M577.1,628.1 L600.6,632.2M577.1,628.1 L564.0,635.3M564.0,635.3 L587.5,639.4M564.0,635.3 L550.9,642.5M550.9,642.5 L574.4,646.6M550.9,642.5 L537.7,649.8M537.7,649.8 L561.2,653.9M537.7,649.8 L524.6,657.0M524.6,657.0 L548.1,661.1M524.6,657.0 L511.4,664.2M511.4,664.2 L535.0,668.3M511.4,664.2 L498.3,671.5M498.3,671.5 L521.8,675.6M498.3,671.5 L485.2,678.7M485.2,678.7 L508.7,682.8M779.2,539.5 L794.9,542.3M774.9,548.3 L781.8,549.5M642.2,609.3 L640.1,610.5M640.1,610.5 L645.9,611.5M640.1,610.5 L626.9,617.7M626.9,617.7 L650.4,621.8M626.9,617.7 L613.8,624.9M613.8,624.9 L637.3,629.0M613.8,624.9 L600.6,632.2M600.6,632.2 L624.2,636.3M600.6,632.2 L587.5,639.4M587.5,639.4 L611.0,643.5M587.5,639.4 L574.4,646.6M574.4,646.6 L597.9,650.7M574.4,646.6 L561.2,653.9M561.2,653.9 L584.8,658.0M561.2,653.9 L548.1,661.1M548.1,661.1 L571.6,665.2M548.1,661.1 L535.0,668.3M535.0,668.3 L558.5,672.4M535.0,668.3 L521.8,675.6M521.8,675.6 L545.4,679.6M521.8,675.6 L508.7,682.8M508.7,682.8 L532.2,686.9M794.9,542.3 L818.5,546.4M794.9,542.3 L781.8,549.5M781.8,549.5 L805.3,553.6M781.8,549.5 L769.7,556.1M769.6,556.9 L792.2,560.8M764.3,565.5 L779.0,568.1M760.0,574.3 L765.9,575.3M657.0,618.2 L650.4,621.8M650.4,621.8 L666.1,624.5M650.4,621.8 L637.3,629.0M637.3,629.0 L660.8,633.1M637.3,629.0 L624.2,636.3M624.2,636.3 L647.7,640.4M624.2,636.3 L611.0,643.5M611.0,643.5 L634.6,647.6M611.0,643.5 L597.9,650.7M597.9,650.7 L621.4,654.8M597.9,650.7 L584.8,658.0M584.8,658.0 L608.3,662.0M584.8,658.0 L571.6,665.2M571.6,665.2 L595.2,669.3M571.6,665.2 L558.5,672.4M558.5,672.4 L582.0,676.5M558.5,672.4 L545.4,679.6M545.4,679.6 L568.9,683.7M545.4,679.6 L532.2,686.9M532.2,686.9 L555.8,691.0M818.5,546.4 L842.0,550.5M818.5,546.4 L805.3,553.6M805.3,553.6 L828.8,557.7M805.3,553.6 L792.2,560.8M792.2,560.8 L815.7,564.9M792.2,560.8 L779.0,568.1M779.0,568.1 L802.6,572.1M779.0,568.1 L765.9,575.3M765.9,575.3 L789.4,579.4M765.9,575.3 L753.9,581.9M753.8,582.7 L776.3,586.6M747.5,591.1 L763.2,593.8M741.2,599.5 L750.0,601.1M734.9,608.0 L736.9,608.3M670.1,628.0 L660.8,633.1M660.8,633.1 L682.4,636.9M660.8,633.1 L647.7,640.4M647.7,640.4 L671.2,644.4M647.7,640.4 L634.6,647.6M634.6,647.6 L658.1,651.7M634.6,647.6 L621.4,654.8M621.4,654.8 L645.0,658.9M621.4,654.8 L608.3,662.0M608.3,662.0 L631.8,666.1M608.3,662.0 L595.2,669.3M595.2,669.3 L618.7,673.4M595.2,669.3 L582.0,676.5M582.0,676.5 L605.5,680.6M582.0,676.5 L568.9,683.7M568.9,683.7 L592.4,687.8M568.9,683.7 L555.8,691.0M555.8,691.0 L579.3,695.1M842.0,550.5 L865.5,554.5M842.0,550.5 L828.8,557.7M828.8,557.7 L852.4,561.8M828.8,557.7 L815.7,564.9M815.7,564.9 L839.2,569.0M815.7,564.9 L802.6,572.1M802.6,572.1 L826.1,576.2M802.6,572.1 L789.4,579.4M789.4,579.4 L813.0,583.5M789.4,579.4 L776.3,586.6M776.3,586.6 L799.8,590.7M776.3,586.6 L763.2,593.8M763.2,593.8 L786.7,597.9M763.2,593.8 L750.0,601.1M750.0,601.1 L773.6,605.2M750.0,601.1 L736.9,608.3M736.9,608.3 L760.4,612.4M736.9,608.3 L730.9,611.6M726.7,616.0 L747.3,619.6M719.4,624.3 L734.1,626.8M711.2,632.4 L721.0,634.1M702.0,640.3 L707.9,641.3M683.3,637.8 L671.2,644.4M671.2,644.4 L694.7,648.5M671.2,644.4 L658.1,651.7M658.1,651.7 L681.6,655.8M658.1,651.7 L645.0,658.9M645.0,658.9 L668.5,663.0M645.0,658.9 L631.8,666.1M631.8,666.1 L655.3,670.2M631.8,666.1 L618.7,673.4M618.7,673.4 L642.2,677.5M618.7,673.4 L605.5,680.6M605.5,680.6 L629.1,684.7M605.5,680.6 L592.4,687.8M592.4,687.8 L615.9,691.9M592.4,687.8 L579.3,695.1M579.3,695.1 L602.8,699.1M865.5,554.5 L852.4,561.8M852.4,561.8 L839.2,569.0M839.2,569.0 L826.1,576.2M826.1,576.2 L813.0,583.5M813.0,583.5 L799.8,590.7M799.8,590.7 L786.7,597.9M786.7,597.9 L773.6,605.2M773.6,605.2 L760.4,612.4M760.4,612.4 L747.3,619.6M747.3,619.6 L734.1,626.8M734.1,626.8 L721.0,634.1M721.0,634.1 L707.9,641.3M707.9,641.3 L694.7,648.5M694.7,648.5 L681.6,655.8M681.6,655.8 L668.5,663.0M668.5,663.0 L655.3,670.2M655.3,670.2 L642.2,677.5M642.2,677.5 L629.1,684.7M629.1,684.7 L615.9,691.9M615.9,691.9 L602.8,699.1"/>
<path class="ms" d="M395.0,473.5 L418.5,473.4M395.0,473.5 L381.9,480.7M381.9,480.7 L405.4,480.7M381.9,480.7 L368.7,487.9M368.7,487.9 L392.3,487.9M368.7,487.9 L355.6,495.1M355.6,495.1 L379.1,495.1M355.6,495.1 L342.5,502.4M342.5,502.4 L366.0,502.3M342.5,502.4 L329.3,509.6M329.3,509.6 L352.8,509.6M329.3,509.6 L316.2,516.8M316.2,516.8 L339.7,516.8M316.2,516.8 L303.1,524.1M303.1,524.1 L326.6,524.0M303.1,524.1 L289.9,531.3M289.9,531.3 L313.4,531.3M289.9,531.3 L276.8,538.5M276.8,538.5 L300.3,538.5M276.8,538.5 L263.6,545.8M263.6,545.8 L287.2,545.7M263.6,545.8 L250.5,553.0M250.5,553.0 L274.0,553.0M250.5,553.0 L237.4,560.2M237.4,560.2 L260.9,560.2M237.4,560.2 L224.2,567.4M224.2,567.4 L247.8,567.4M224.2,567.4 L211.1,574.7M211.1,574.7 L234.6,574.6M211.1,574.7 L198.0,581.9M198.0,581.9 L221.5,581.9M198.0,581.9 L184.8,589.1M184.8,589.1 L208.4,589.1M184.8,589.1 L171.7,596.4M171.7,596.4 L195.2,596.3M171.7,596.4 L158.6,603.6M158.6,603.6 L182.1,603.6M158.6,603.6 L145.4,610.8M145.4,610.8 L169.0,610.8M145.4,610.8 L132.3,618.1M132.3,618.1 L155.8,618.0M418.5,473.4 L442.1,473.0M418.5,473.4 L405.4,480.7M405.4,480.7 L428.9,480.2M405.4,480.7 L392.3,487.9M392.3,487.9 L415.8,487.4M392.3,487.9 L379.1,495.1M379.1,495.1 L402.6,494.6M379.1,495.1 L366.0,502.3M366.0,502.3 L389.5,501.9M366.0,502.3 L352.8,509.6M352.8,509.6 L376.4,509.1M352.8,509.6 L339.7,516.8M339.7,516.8 L363.2,516.3M339.7,516.8 L326.6,524.0M326.6,524.0 L350.1,523.6M326.6,524.0 L313.4,531.3M313.4,531.3 L337.0,530.8M313.4,531.3 L300.3,538.5M300.3,538.5 L323.8,538.0M300.3,538.5 L287.2,545.7M287.2,545.7 L310.7,545.3M287.2,545.7 L274.0,553.0M274.0,553.0 L297.6,552.5M274.0,553.0 L260.9,560.2M260.9,560.2 L284.4,559.7M260.9,560.2 L247.8,567.4M247.8,567.4 L271.3,566.9M247.8,567.4 L234.6,574.6M234.6,574.6 L258.2,574.2M234.6,574.6 L221.5,581.9M221.5,581.9 L245.0,581.4M221.5,581.9 L208.4,589.1M208.4,589.1 L231.9,588.6M208.4,589.1 L195.2,596.3M195.2,596.3 L218.8,595.9M195.2,596.3 L182.1,603.6M182.1,603.6 L205.6,603.1M182.1,603.6 L169.0,610.8M169.0,610.8 L192.5,610.3M169.0,610.8 L155.8,618.0M155.8,618.0 L179.4,617.6M442.1,473.0 L465.6,472.0M442.1,473.0 L428.9,480.2M428.9,480.2 L452.4,479.2M428.9,480.2 L415.8,487.4M415.8,487.4 L439.3,486.4M415.8,487.4 L402.6,494.6M402.6,494.6 L426.2,493.7M402.6,494.6 L389.5,501.9M389.5,501.9 L413.0,500.9M389.5,501.9 L376.4,509.1M376.4,509.1 L399.9,508.1M376.4,509.1 L363.2,516.3M363.2,516.3 L386.8,515.3M363.2,516.3 L350.1,523.6M350.1,523.6 L373.6,522.6M350.1,523.6 L337.0,530.8M337.0,530.8 L360.5,529.8M337.0,530.8 L323.8,538.0M323.8,538.0 L347.4,537.0M323.8,538.0 L310.7,545.3M310.7,545.3 L334.2,544.3M310.7,545.3 L297.6,552.5M297.6,552.5 L321.1,551.5M297.6,552.5 L284.4,559.7M284.4,559.7 L308.0,558.7M284.4,559.7 L271.3,566.9M271.3,566.9 L294.8,566.0M271.3,566.9 L258.2,574.2M258.2,574.2 L281.7,573.2M258.2,574.2 L245.0,581.4M245.0,581.4 L268.6,580.4M245.0,581.4 L231.9,588.6M231.9,588.6 L255.4,587.6M231.9,588.6 L218.8,595.9M218.8,595.9 L242.3,594.9M218.8,595.9 L205.6,603.1M205.6,603.1 L229.1,602.1M205.6,603.1 L192.5,610.3M192.5,610.3 L216.0,609.3M192.5,610.3 L179.4,617.6M179.4,617.6 L202.9,616.6M465.6,472.0 L489.1,470.4M465.6,472.0 L452.4,479.2M452.4,479.2 L476.0,477.6M452.4,479.2 L439.3,486.4M439.3,486.4 L462.8,484.8M439.3,486.4 L426.2,493.7M426.2,493.7 L449.7,492.1M426.2,493.7 L413.0,500.9M413.0,500.9 L436.6,499.3M413.0,500.9 L399.9,508.1M399.9,508.1 L423.4,506.5M399.9,508.1 L386.8,515.3M386.8,515.3 L410.3,513.8M386.8,515.3 L373.6,522.6M373.6,522.6 L397.2,521.0M373.6,522.6 L360.5,529.8M360.5,529.8 L384.0,528.2M360.5,529.8 L347.4,537.0M347.4,537.0 L370.9,535.5M347.4,537.0 L334.2,544.3M334.2,544.3 L357.8,542.7M334.2,544.3 L321.1,551.5M321.1,551.5 L344.6,549.9M321.1,551.5 L308.0,558.7M308.0,558.7 L331.5,557.1M308.0,558.7 L294.8,566.0M294.8,566.0 L318.3,564.4M294.8,566.0 L281.7,573.2M281.7,573.2 L305.2,571.6M281.7,573.2 L268.6,580.4M268.6,580.4 L292.1,578.8M268.6,580.4 L255.4,587.6M255.4,587.6 L278.9,586.1M255.4,587.6 L242.3,594.9M242.3,594.9 L265.8,593.3M242.3,594.9 L229.1,602.1M229.1,602.1 L252.7,600.5M229.1,602.1 L216.0,609.3M216.0,609.3 L239.5,607.8M216.0,609.3 L202.9,616.6M202.9,616.6 L226.4,615.0M489.1,470.4 L512.6,468.1M489.1,470.4 L476.0,477.6M476.0,477.6 L499.5,475.3M476.0,477.6 L462.8,484.8M462.8,484.8 L486.4,482.6M462.8,484.8 L449.7,492.1M449.7,492.1 L473.2,489.8M449.7,492.1 L436.6,499.3M436.6,499.3 L460.1,497.0M436.6,499.3 L423.4,506.5M423.4,506.5 L446.9,504.3M423.4,506.5 L410.3,513.8M410.3,513.8 L433.8,511.5M410.3,513.8 L397.2,521.0M397.2,521.0 L420.7,518.7M397.2,521.0 L384.0,528.2M384.0,528.2 L407.5,525.9M384.0,528.2 L370.9,535.5M370.9,535.5 L394.4,533.2M370.9,535.5 L357.8,542.7M357.8,542.7 L381.3,540.4M357.8,542.7 L344.6,549.9M344.6,549.9 L368.1,547.6M344.6,549.9 L331.5,557.1M331.5,557.1 L355.0,554.9M331.5,557.1 L318.3,564.4M318.3,564.4 L341.9,562.1M318.3,564.4 L305.2,571.6M305.2,571.6 L328.7,569.3M305.2,571.6 L292.1,578.8M292.1,578.8 L315.6,576.6M292.1,578.8 L278.9,586.1M278.9,586.1 L302.5,583.8M278.9,586.1 L265.8,593.3M265.8,593.3 L289.3,591.0M265.8,593.3 L252.7,600.5M252.7,600.5 L276.2,598.2M252.7,600.5 L239.5,607.8M239.5,607.8 L263.1,605.5M239.5,607.8 L226.4,615.0M226.4,615.0 L249.9,612.7M512.6,468.1 L499.5,475.3M499.5,475.3 L508.3,474.2M499.5,475.3 L486.4,482.6M486.4,482.6 L504.0,480.2M486.4,482.6 L473.2,489.8M473.2,489.8 L496.7,486.7M473.2,489.8 L460.1,497.0M460.1,497.0 L483.6,493.9M460.1,497.0 L446.9,504.3M446.9,504.3 L470.5,501.2M446.9,504.3 L433.8,511.5M433.8,511.5 L457.3,508.4M433.8,511.5 L420.7,518.7M420.7,518.7 L444.2,515.6M420.7,518.7 L407.5,525.9M407.5,525.9 L431.1,522.8M407.5,525.9 L394.4,533.2M394.4,533.2 L417.9,530.1M394.4,533.2 L381.3,540.4M381.3,540.4 L404.8,537.3M381.3,540.4 L368.1,547.6M368.1,547.6 L391.7,544.5M368.1,547.6 L355.0,554.9M355.0,554.9 L378.5,551.8M355.0,554.9 L341.9,562.1M341.9,562.1 L365.4,559.0M341.9,562.1 L328.7,569.3M328.7,569.3 L352.3,566.2M328.7,569.3 L315.6,576.6M315.6,576.6 L339.1,573.5M315.6,576.6 L302.5,583.8M302.5,583.8 L326.0,580.7M302.5,583.8 L289.3,591.0M289.3,591.0 L312.9,587.9M289.3,591.0 L276.2,598.2M276.2,598.2 L299.7,595.1M276.2,598.2 L263.1,605.5M263.1,605.5 L286.6,602.4M263.1,605.5 L249.9,612.7M249.9,612.7 L273.5,609.6M501.1,484.3 L496.7,486.7M496.7,486.7 L498.7,486.4M496.7,486.7 L483.6,493.9M483.6,493.9 L494.4,492.1M483.6,493.9 L470.5,501.2M470.5,501.2 L490.1,497.8M470.5,501.2 L457.3,508.4M457.3,508.4 L480.9,504.3M457.3,508.4 L444.2,515.6M444.2,515.6 L467.7,511.6M444.2,515.6 L431.1,522.8M431.1,522.8 L454.6,518.8M431.1,522.8 L417.9,530.1M417.9,530.1 L441.5,526.0M417.9,530.1 L404.8,537.3M404.8,537.3 L428.3,533.3M404.8,537.3 L391.7,544.5M391.7,544.5 L415.2,540.5M391.7,544.5 L378.5,551.8M378.5,551.8 L402.1,547.7M378.5,551.8 L365.4,559.0M365.4,559.0 L388.9,554.9M365.4,559.0 L352.3,566.2M352.3,566.2 L375.8,562.2M352.3,566.2 L339.1,573.5M339.1,573.5 L362.6,569.4M339.1,573.5 L326.0,580.7M326.0,580.7 L349.5,576.6M326.0,580.7 L312.9,587.9M312.9,587.9 L336.4,583.9M312.9,587.9 L299.7,595.1M299.7,595.1 L323.2,591.1M299.7,595.1 L286.6,602.4M286.6,602.4 L310.1,598.3M286.6,602.4 L273.5,609.6M273.5,609.6 L297.0,605.6M489.1,499.8 L480.9,504.3M480.9,504.3 L485.8,503.3M480.9,504.3 L467.7,511.6M467.7,511.6 L481.5,508.5M467.7,511.6 L454.6,518.8M454.6,518.8 L476.2,514.0M454.6,518.8 L441.5,526.0M441.5,526.0 L465.0,520.8M441.5,526.0 L428.3,533.3M428.3,533.3 L451.9,528.1M428.3,533.3 L415.2,540.5M415.2,540.5 L438.7,535.3M415.2,540.5 L402.1,547.7M402.1,547.7 L425.6,542.5M402.1,547.7 L388.9,554.9M388.9,554.9 L412.4,549.8M388.9,554.9 L375.8,562.2M375.8,562.2 L399.3,557.0M375.8,562.2 L362.6,569.4M362.6,569.4 L386.2,564.2M362.6,569.4 L349.5,576.6M349.5,576.6 L373.0,571.5M349.5,576.6 L336.4,583.9M336.4,583.9 L359.9,578.7M336.4,583.9 L323.2,591.1M323.2,591.1 L346.8,585.9M323.2,591.1 L310.1,598.3M310.1,598.3 L333.6,593.1M310.1,598.3 L297.0,605.6M297.0,605.6 L320.5,600.4M474.8,515.4 L465.0,520.8M465.0,520.8 L470.9,519.2M465.0,520.8 L451.9,528.1M451.9,528.1 L466.6,524.0M451.9,528.1 L438.7,535.3M438.7,535.3 L461.3,529.0M438.7,535.3 L425.6,542.5M425.6,542.5 L449.1,536.0M425.6,542.5 L412.4,549.8M412.4,549.8 L436.0,543.2M412.4,549.8 L399.3,557.0M399.3,557.0 L422.8,550.5M399.3,557.0 L386.2,564.2M386.2,564.2 L409.7,557.7M386.2,564.2 L373.0,571.5M373.0,571.5 L396.6,564.9M373.0,571.5 L359.9,578.7M359.9,578.7 L383.4,572.1M359.9,578.7 L346.8,585.9M346.8,585.9 L370.3,579.4M346.8,585.9 L333.6,593.1M333.6,593.1 L357.2,586.6M333.6,593.1 L320.5,600.4M320.5,600.4 L344.0,593.8M460.6,529.7 L449.1,536.0M449.1,536.0 L456.0,533.6M449.1,536.0 L436.0,543.2M436.0,543.2 L449.7,538.5M436.0,543.2 L422.8,550.5M422.8,550.5 L444.4,543.0M422.8,550.5 L409.7,557.7M409.7,557.7 L433.2,549.5M409.7,557.7 L396.6,564.9M396.6,564.9 L420.1,556.7M396.6,564.9 L383.4,572.1M383.4,572.1 L407.0,564.0M383.4,572.1 L370.3,579.4M370.3,579.4 L393.8,571.2M370.3,579.4 L357.2,586.6M357.2,586.6 L380.7,578.4M357.2,586.6 L344.0,593.8M344.0,593.8 L367.6,585.7M635.7,440.2 L640.6,438.1M622.6,447.5 L627.5,445.4M608.5,455.1 L614.4,452.6M595.4,462.4 L601.2,459.8M583.2,469.2 L588.1,467.0M569.1,476.8 L575.0,474.3M557.9,483.2 L561.8,481.5M543.8,490.9 L548.7,488.7M529.7,498.5 L530.7,498.1M532.6,497.2 L535.6,496.0M518.5,504.9 L522.4,503.2M504.4,512.5 L509.3,510.4M491.3,519.8 L496.2,517.7M477.1,527.4 L483.0,524.9M466.0,533.8 L469.9,532.1M443.6,543.8 L433.2,549.5M433.2,549.5 L440.1,546.5M451.8,541.5 L456.8,539.3M433.2,549.5 L420.1,556.7M420.1,556.7 L435.8,550.0M437.7,549.1 L443.6,546.6M420.1,556.7 L407.0,564.0M407.0,564.0 L430.5,553.8M407.0,564.0 L393.8,571.2M393.8,571.2 L417.3,561.0M393.8,571.2 L380.7,578.4M380.7,578.4 L404.2,568.3M380.7,578.4 L367.6,585.7M367.6,585.7 L391.1,575.5M654.8,430.4 L677.3,418.3M653.2,431.2 L640.6,438.1M640.6,438.1 L664.2,425.5M640.6,438.1 L627.5,445.4M627.5,445.4 L651.0,432.8M627.5,445.4 L614.4,452.6M614.4,452.6 L637.9,440.0M614.4,452.6 L601.2,459.8M601.2,459.8 L624.8,447.2M601.2,459.8 L588.1,467.0M588.1,467.0 L611.6,454.4M588.1,467.0 L575.0,474.3M575.0,474.3 L598.5,461.7M575.0,474.3 L561.8,481.5M561.8,481.5 L585.4,468.9M561.8,481.5 L548.7,488.7M548.7,488.7 L572.2,476.1M548.7,488.7 L535.6,496.0M535.6,496.0 L559.1,483.4M535.6,496.0 L522.4,503.2M522.4,503.2 L546.0,490.6M522.4,503.2 L509.3,510.4M509.3,510.4 L532.8,497.8M509.3,510.4 L496.2,517.7M496.2,517.7 L519.7,505.1M496.2,517.7 L483.0,524.9M483.0,524.9 L506.5,512.3M483.0,524.9 L469.9,532.1M469.9,532.1 L493.4,519.5M469.9,532.1 L456.8,539.3M456.8,539.3 L480.3,526.7M456.8,539.3 L443.6,546.6M443.6,546.6 L467.1,534.0M443.6,546.6 L430.5,553.8M430.5,553.8 L454.0,541.2M430.5,553.8 L417.3,561.0M417.3,561.0 L440.9,548.4M417.3,561.0 L404.2,568.3M404.2,568.3 L427.7,555.7M404.2,568.3 L391.1,575.5M391.1,575.5 L414.6,562.9M677.3,418.3 L700.8,402.7M677.3,418.3 L664.2,425.5M664.2,425.5 L687.7,409.9M664.2,425.5 L651.0,432.8M651.0,432.8 L674.6,417.1M651.0,432.8 L637.9,440.0M637.9,440.0 L661.4,424.3M637.9,440.0 L624.8,447.2M624.8,447.2 L648.3,431.6M624.8,447.2 L611.6,454.4M611.6,454.4 L635.2,438.8M611.6,454.4 L598.5,461.7M598.5,461.7 L622.0,446.0M598.5,461.7 L585.4,468.9M585.4,468.9 L608.9,453.3M585.4,468.9 L572.2,476.1M572.2,476.1 L595.7,460.5M572.2,476.1 L559.1,483.4M559.1,483.4 L582.6,467.7M559.1,483.4 L546.0,490.6M546.0,490.6 L569.5,475.0M546.0,490.6 L532.8,497.8M532.8,497.8 L556.3,482.2M532.8,497.8 L519.7,505.1M519.7,505.1 L543.2,489.4M519.7,505.1 L506.5,512.3M506.5,512.3 L530.1,496.6M506.5,512.3 L493.4,519.5M493.4,519.5 L516.9,503.9M493.4,519.5 L480.3,526.7M480.3,526.7 L503.8,511.1M480.3,526.7 L467.1,534.0M467.1,534.0 L490.7,518.3M467.1,534.0 L454.0,541.2M454.0,541.2 L477.5,525.6M454.0,541.2 L440.9,548.4M440.9,548.4 L464.4,532.8M440.9,548.4 L427.7,555.7M427.7,555.7 L451.3,540.0M427.7,555.7 L414.6,562.9M414.6,562.9 L438.1,547.3M700.8,402.7 L724.4,383.2M700.8,402.7 L687.7,409.9M687.7,409.9 L711.2,390.4M687.7,409.9 L674.6,417.1M674.6,417.1 L698.1,397.7M674.6,417.1 L661.4,424.3M661.4,424.3 L684.9,404.9M661.4,424.3 L648.3,431.6M648.3,431.6 L671.8,412.1M648.3,431.6 L635.2,438.8M635.2,438.8 L658.7,419.4M635.2,438.8 L622.0,446.0M622.0,446.0 L645.5,426.6M622.0,446.0 L608.9,453.3M608.9,453.3 L632.4,433.8M608.9,453.3 L595.7,460.5M595.7,460.5 L619.3,441.1M595.7,460.5 L582.6,467.7M582.6,467.7 L606.1,448.3M582.6,467.7 L569.5,475.0M569.5,475.0 L593.0,455.5M569.5,475.0 L556.3,482.2M556.3,482.2 L579.9,462.7M556.3,482.2 L543.2,489.4M543.2,489.4 L566.7,470.0M543.2,489.4 L530.1,496.6M530.1,496.6 L553.6,477.2M530.1,496.6 L516.9,503.9M516.9,503.9 L540.5,484.4M516.9,503.9 L503.8,511.1M503.8,511.1 L527.3,491.7M503.8,511.1 L490.7,518.3M490.7,518.3 L514.2,498.9M490.7,518.3 L477.5,525.6M477.5,525.6 L501.1,506.1M477.5,525.6 L464.4,532.8M464.4,532.8 L487.9,513.4M464.4,532.8 L451.3,540.0M451.3,540.0 L474.8,520.6M451.3,540.0 L438.1,547.3M438.1,547.3 L461.7,527.8M724.4,383.2 L747.9,358.9M724.4,383.2 L711.2,390.4M711.2,390.4 L734.7,366.1M711.2,390.4 L698.1,397.7M698.1,397.7 L721.6,373.4M698.1,397.7 L684.9,404.9M684.9,404.9 L708.5,380.6M684.9,404.9 L671.8,412.1M671.8,412.1 L695.3,387.8M671.8,412.1 L658.7,419.4M658.7,419.4 L682.2,395.1M658.7,419.4 L645.5,426.6M645.5,426.6 L669.1,402.3M645.5,426.6 L632.4,433.8M632.4,433.8 L655.9,409.5M632.4,433.8 L619.3,441.1M619.3,441.1 L642.8,416.7M619.3,441.1 L606.1,448.3M606.1,448.3 L629.7,424.0M606.1,448.3 L593.0,455.5M593.0,455.5 L616.5,431.2M593.0,455.5 L579.9,462.7M579.9,462.7 L603.4,438.4M579.9,462.7 L566.7,470.0M566.7,470.0 L590.3,445.7M566.7,470.0 L553.6,477.2M553.6,477.2 L577.1,452.9M553.6,477.2 L540.5,484.4M540.5,484.4 L564.0,460.1M540.5,484.4 L527.3,491.7M527.3,491.7 L550.9,467.4M527.3,491.7 L514.2,498.9M514.2,498.9 L537.7,474.6M514.2,498.9 L501.1,506.1M501.1,506.1 L524.6,481.8M501.1,506.1 L487.9,513.4M487.9,513.4 L511.4,489.0M487.9,513.4 L474.8,520.6M474.8,520.6 L498.3,496.3M474.8,520.6 L461.7,527.8M461.7,527.8 L485.2,503.5M747.9,358.9 L771.4,328.3M747.9,358.9 L734.7,366.1M734.7,366.1 L758.3,335.5M734.7,366.1 L721.6,373.4M721.6,373.4 L745.1,342.8M721.6,373.4 L708.5,380.6M708.5,380.6 L732.0,350.0M708.5,380.6 L695.3,387.8M695.3,387.8 L718.9,357.2M695.3,387.8 L682.2,395.1M682.2,395.1 L705.7,364.5M682.2,395.1 L669.1,402.3M669.1,402.3 L692.6,371.7M669.1,402.3 L655.9,409.5M655.9,409.5 L679.5,378.9M655.9,409.5 L642.8,416.7M642.8,416.7 L666.3,386.1M642.8,416.7 L629.7,424.0M629.7,424.0 L653.2,393.4M629.7,424.0 L616.5,431.2M616.5,431.2 L640.1,400.6M616.5,431.2 L603.4,438.4M603.4,438.4 L626.9,407.8M603.4,438.4 L590.3,445.7M590.3,445.7 L613.8,415.1M590.3,445.7 L577.1,452.9M577.1,452.9 L600.6,422.3M577.1,452.9 L564.0,460.1M564.0,460.1 L587.5,429.5M564.0,460.1 L550.9,467.4M550.9,467.4 L574.4,436.8M550.9,467.4 L537.7,474.6M537.7,474.6 L561.2,444.0M537.7,474.6 L524.6,481.8M524.6,481.8 L548.1,451.2M524.6,481.8 L511.4,489.0M511.4,489.0 L535.0,458.4M511.4,489.0 L498.3,496.3M498.3,496.3 L521.8,465.7M498.3,496.3 L485.2,503.5M485.2,503.5 L508.7,472.9M771.4,328.3 L794.9,289.4M771.4,328.3 L758.3,335.5M758.3,335.5 L781.8,296.6M758.3,335.5 L745.1,342.8M745.1,342.8 L768.7,303.8M745.1,342.8 L732.0,350.0M732.0,350.0 L755.5,311.1M732.0,350.0 L718.9,357.2M718.9,357.2 L742.4,318.3M718.9,357.2 L705.7,364.5M705.7,364.5 L729.3,325.5M705.7,364.5 L692.6,371.7M692.6,371.7 L716.1,332.8M692.6,371.7 L679.5,378.9M679.5,378.9 L703.0,340.0M679.5,378.9 L666.3,386.1M666.3,386.1 L689.8,347.2M666.3,386.1 L653.2,393.4M653.2,393.4 L676.7,354.5M653.2,393.4 L640.1,400.6M640.1,400.6 L663.6,361.7M640.1,400.6 L626.9,407.8M626.9,407.8 L650.4,368.9M626.9,407.8 L613.8,415.1M613.8,415.1 L637.3,376.1M613.8,415.1 L600.6,422.3M600.6,422.3 L624.2,383.4M600.6,422.3 L587.5,429.5M587.5,429.5 L611.0,390.6M587.5,429.5 L574.4,436.8M574.4,436.8 L597.9,397.8M574.4,436.8 L561.2,444.0M561.2,444.0 L584.8,405.1M561.2,444.0 L548.1,451.2M548.1,451.2 L571.6,412.3M548.1,451.2 L535.0,458.4M535.0,458.4 L558.5,419.5M535.0,458.4 L521.8,465.7M521.8,465.7 L545.4,426.8M521.8,465.7 L508.7,472.9M508.7,472.9 L532.2,434.0M794.9,289.4 L818.5,239.3M794.9,289.4 L781.8,296.6M781.8,296.6 L805.3,246.5M781.8,296.6 L768.7,303.8M768.7,303.8 L792.2,253.7M768.7,303.8 L755.5,311.1M755.5,311.1 L779.0,261.0M755.5,311.1 L742.4,318.3M742.4,318.3 L765.9,268.2M742.4,318.3 L729.3,325.5M729.3,325.5 L752.8,275.4M729.3,325.5 L716.1,332.8M716.1,332.8 L739.6,282.7M716.1,332.8 L703.0,340.0M703.0,340.0 L726.5,289.9M703.0,340.0 L689.8,347.2M689.8,347.2 L713.4,297.1M689.8,347.2 L676.7,354.5M676.7,354.5 L700.2,304.4M676.7,354.5 L663.6,361.7M663.6,361.7 L687.1,311.6M663.6,361.7 L650.4,368.9M650.4,368.9 L674.0,318.8M650.4,368.9 L637.3,376.1M637.3,376.1 L660.8,326.0M637.3,376.1 L624.2,383.4M624.2,383.4 L647.7,333.3M624.2,383.4 L611.0,390.6M611.0,390.6 L634.6,340.5M611.0,390.6 L597.9,397.8M597.9,397.8 L621.4,347.7M597.9,397.8 L584.8,405.1M584.8,405.1 L608.3,355.0M584.8,405.1 L571.6,412.3M571.6,412.3 L595.2,362.2M571.6,412.3 L558.5,419.5M558.5,419.5 L582.0,369.4M558.5,419.5 L545.4,426.8M545.4,426.8 L568.9,376.7M545.4,426.8 L532.2,434.0M532.2,434.0 L555.8,383.9M818.5,239.3 L842.0,173.7M818.5,239.3 L805.3,246.5M805.3,246.5 L828.8,181.0M805.3,246.5 L792.2,253.7M792.2,253.7 L815.7,188.2M792.2,253.7 L779.0,261.0M779.0,261.0 L802.6,195.4M779.0,261.0 L765.9,268.2M765.9,268.2 L789.4,202.7M765.9,268.2 L752.8,275.4M752.8,275.4 L776.3,209.9M752.8,275.4 L739.6,282.7M739.6,282.7 L763.2,217.1M739.6,282.7 L726.5,289.9M726.5,289.9 L750.0,224.4M726.5,289.9 L713.4,297.1M713.4,297.1 L736.9,231.6M713.4,297.1 L700.2,304.4M700.2,304.4 L723.8,238.8M700.2,304.4 L687.1,311.6M687.1,311.6 L710.6,246.0M687.1,311.6 L674.0,318.8M674.0,318.8 L697.5,253.3M674.0,318.8 L660.8,326.0M660.8,326.0 L684.4,260.5M660.8,326.0 L647.7,333.3M647.7,333.3 L671.2,267.7M647.7,333.3 L634.6,340.5M634.6,340.5 L658.1,275.0M634.6,340.5 L621.4,347.7M621.4,347.7 L645.0,282.2M621.4,347.7 L608.3,355.0M608.3,355.0 L631.8,289.4M608.3,355.0 L595.2,362.2M595.2,362.2 L618.7,296.7M595.2,362.2 L582.0,369.4M582.0,369.4 L605.5,303.9M582.0,369.4 L568.9,376.7M568.9,376.7 L592.4,311.1M568.9,376.7 L555.8,383.9M555.8,383.9 L579.3,318.3M842.0,173.7 L865.5,86.3M842.0,173.7 L828.8,181.0M828.8,181.0 L852.4,93.5M828.8,181.0 L815.7,188.2M815.7,188.2 L839.2,100.7M815.7,188.2 L802.6,195.4M802.6,195.4 L826.1,108.0M802.6,195.4 L789.4,202.7M789.4,202.7 L813.0,115.2M789.4,202.7 L776.3,209.9M776.3,209.9 L799.8,122.4M776.3,209.9 L763.2,217.1M763.2,217.1 L786.7,129.7M763.2,217.1 L750.0,224.4M750.0,224.4 L773.6,136.9M750.0,224.4 L736.9,231.6M736.9,231.6 L760.4,144.1M736.9,231.6 L723.8,238.8M723.8,238.8 L747.3,151.4M723.8,238.8 L710.6,246.0M710.6,246.0 L734.1,158.6M710.6,246.0 L697.5,253.3M697.5,253.3 L721.0,165.8M697.5,253.3 L684.4,260.5M684.4,260.5 L707.9,173.0M684.4,260.5 L671.2,267.7M671.2,267.7 L694.7,180.3M671.2,267.7 L658.1,275.0M658.1,275.0 L681.6,187.5M658.1,275.0 L645.0,282.2M645.0,282.2 L668.5,194.7M645.0,282.2 L631.8,289.4M631.8,289.4 L655.3,202.0M631.8,289.4 L618.7,296.7M618.7,296.7 L642.2,209.2M618.7,296.7 L605.5,303.9M605.5,303.9 L629.1,216.4M605.5,303.9 L592.4,311.1M592.4,311.1 L615.9,223.7M592.4,311.1 L579.3,318.3M579.3,318.3 L602.8,230.9M865.5,86.3 L852.4,93.5M852.4,93.5 L839.2,100.7M839.2,100.7 L826.1,108.0M826.1,108.0 L813.0,115.2M813.0,115.2 L799.8,122.4M799.8,122.4 L786.7,129.7M786.7,129.7 L773.6,136.9M773.6,136.9 L760.4,144.1M760.4,144.1 L747.3,151.4M747.3,151.4 L734.1,158.6M734.1,158.6 L721.0,165.8M721.0,165.8 L707.9,173.0M707.9,173.0 L694.7,180.3M694.7,180.3 L681.6,187.5M681.6,187.5 L668.5,194.7M668.5,194.7 L655.3,202.0M655.3,202.0 L642.2,209.2M642.2,209.2 L629.1,216.4M629.1,216.4 L615.9,223.7M615.9,223.7 L602.8,230.9"/>
<g><line class="bx" x1="132.3" y1="678.6" x2="602.8" y2="760.4"/><line class="bx" x1="865.5" y1="615.8" x2="602.8" y2="760.4"/><line class="bx" x1="132.3" y1="678.6" x2="132.3" y2="149.1"/><line class="bx" x1="865.5" y1="615.8" x2="865.5" y2="86.3"/><line class="bxf" x1="602.5" y1="760.4" x2="602.5" y2="230.9"/><line class="bx" x1="132.3" y1="149.1" x2="602.8" y2="230.9"/><line class="bx" x1="602.8" y1="230.9" x2="865.5" y2="86.3"/><line class="bx" x1="132.3" y1="676.7" x2="118.5" y2="674.3"/><line class="bx" x1="132.3" y1="606.4" x2="118.5" y2="604.0"/><line class="bx" x1="132.3" y1="536.0" x2="118.5" y2="533.6"/><line class="bx" x1="132.3" y1="465.7" x2="118.5" y2="463.3"/><line class="bx" x1="132.3" y1="395.4" x2="118.5" y2="393.0"/><line class="bx" x1="132.3" y1="325.1" x2="118.5" y2="322.7"/><line class="bx" x1="132.3" y1="254.7" x2="118.5" y2="252.3"/><line class="bx" x1="132.3" y1="184.4" x2="118.5" y2="182.0"/><line class="bx" x1="132.3" y1="678.6" x2="120.0" y2="685.3"/><line class="bx" x1="226.4" y1="695.0" x2="214.1" y2="701.7"/><line class="bx" x1="320.5" y1="711.3" x2="308.2" y2="718.1"/><line class="bx" x1="414.6" y1="727.7" x2="402.3" y2="734.4"/><line class="bx" x1="508.7" y1="744.0" x2="496.4" y2="750.8"/><line class="bx" x1="602.8" y1="760.4" x2="590.5" y2="767.1"/><line class="bx" x1="865.5" y1="615.8" x2="879.3" y2="618.2"/><line class="bx" x1="813.0" y1="644.7" x2="826.8" y2="647.1"/><line class="bx" x1="760.4" y1="673.6" x2="774.2" y2="676.0"/><line class="bx" x1="707.9" y1="702.6" x2="721.7" y2="705.0"/><line class="bx" x1="655.3" y1="731.5" x2="669.1" y2="733.9"/></g>
<g><text class="tk" text-anchor="end" x="107.5" y="683.5">0</text><text class="tk" text-anchor="end" x="107.5" y="613.2">500</text><text class="tk" text-anchor="end" x="107.5" y="542.8">1000</text><text class="tk" text-anchor="end" x="107.5" y="472.5">1500</text><text class="tk" text-anchor="end" x="107.5" y="402.2">2000</text><text class="tk" text-anchor="end" x="107.5" y="331.9">2500</text><text class="tk" text-anchor="end" x="107.5" y="261.5">3000</text><text class="tk" text-anchor="end" x="107.5" y="191.2">3500</text><text class="tk" text-anchor="end" x="109.5" y="722.5">0</text><text class="tk" text-anchor="end" x="203.6" y="738.9">0.2</text><text class="tk" text-anchor="end" x="297.7" y="755.2">0.4</text><text class="tk" text-anchor="end" x="391.8" y="771.6">0.6</text><text class="tk" text-anchor="end" x="485.9" y="787.9">0.8</text><text class="tk" text-anchor="end" x="580.0" y="804.3">1</text><text class="tk" text-anchor="start" x="889.5" y="650.9">0</text><text class="tk" text-anchor="start" x="837.0" y="679.8">0.2</text><text class="tk" text-anchor="start" x="784.4" y="708.7">0.4</text><text class="tk" text-anchor="start" x="731.9" y="737.7">0.6</text><text class="tk" text-anchor="start" x="679.3" y="766.6">0.8</text></g>
<text class="ax" x="305.1" y="799.8">θ</text>
<g fill="none" stroke="#151515" stroke-linecap="butt" stroke-linejoin="round"><path d="M806.4,736.3 L806.3,755.5" stroke-width="2.8"/><path d="M806.3,755 L805.7,760.5" stroke-width="1.9"/><ellipse cx="805.6" cy="760.9" rx="2.0" ry="2.45" fill="#151515" stroke="none"/><path d="M817.6,736.3 L817.6,750.5" stroke-width="2.8"/><path d="M817.6,749.5 Q817.8,754.4 820.4,754 Q822.6,753.5 823.7,750.1" stroke-width="1.5" stroke-linecap="round"/><path d="M806.8,750.5 Q807.4,754.7 810.6,754.3 Q814.6,753.6 817.2,748" stroke-width="1.9"/></g>
<g fill="none" stroke="#151515" stroke-linecap="round" stroke-linejoin="round"><path d="M5.6,407.3 L5.6,421.3" stroke-width="2.4"/><path d="M5.6,421 Q6.2,424 9.4,426.2" stroke-width="1.5"/><path d="M6,412.1 L13,412.6 Q18.8,413.8 20.8,411.8 Q22.6,409.4 18.6,406.9" stroke-width="2.2"/><path d="M6,418.8 L13,419.1" stroke-width="1.9"/><path d="M11,418.15 L15,418.3 Q18,418.9 20.6,420.6 Q23,422.4 22.2,424 Q21.2,425.4 19.2,424.6 Q17,422.6 15,421 L11,420.05 Z" fill="#151515" stroke="none"/></g>
<text class="an" x="560.3" y="117.6">TdMs</text>
<text class="an" x="187" y="512.5">TfMs</text>
<text class="an" x="896.5" y="449">TdMd</text>
<line class="ar" x1="603.5" y1="134.5" x2="626.1" y2="189.9"/><path fill="#4ab4e8" d="M633.4,208.0 L612.5,186.3 L626.1,189.9 L633.2,177.8 Z"/>
<line class="ar" x1="223.5" y1="521.5" x2="274.7" y2="603.9"/><path fill="#4ab4e8" d="M285.0,620.5 L260.7,602.6 L274.7,603.9 L279.7,590.8 Z"/>
<line class="ar" x1="885.6" y1="469.2" x2="820.4" y2="532.0"/><path fill="#4ab4e8" d="M806.3,545.5 L818.7,518.0 L820.4,532.0 L834.2,534.2 Z"/>
</svg>
</body></html>
